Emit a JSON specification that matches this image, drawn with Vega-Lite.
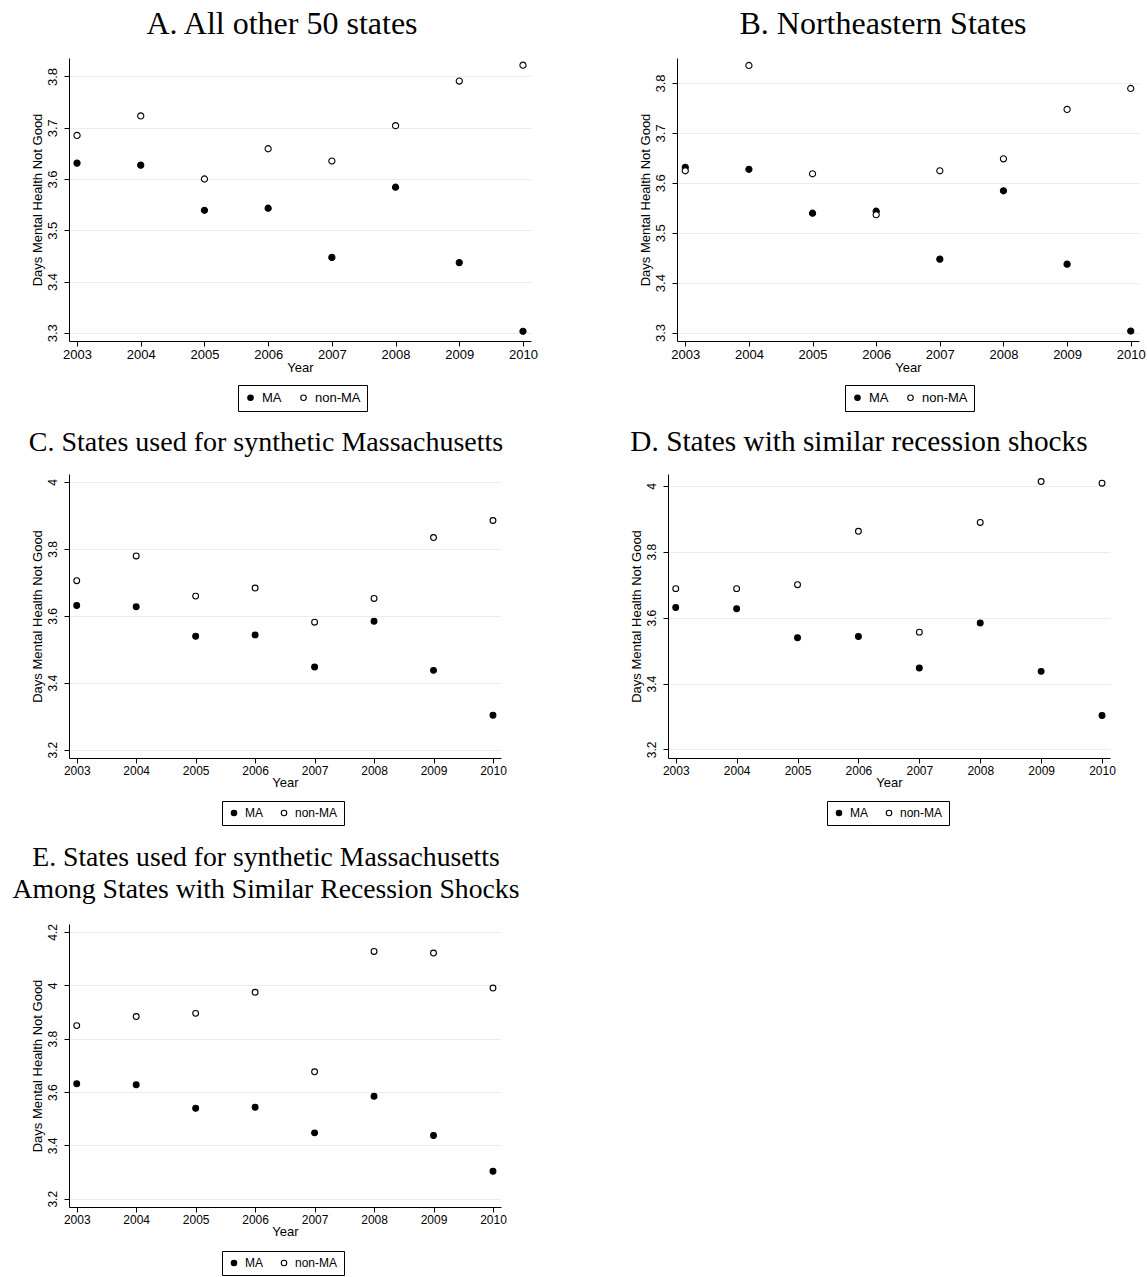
{
  "$schema": "https://vega.github.io/schema/vega-lite/v6.json",
  "padding": {"left": 12, "top": 8, "right": 5, "bottom": 0},
  "background": "white",
  "data": {"values": [
    {"panel":"A","year":2003,"group":"MA","value":3.631},{"panel":"A","year":2004,"group":"MA","value":3.627},{"panel":"A","year":2005,"group":"MA","value":3.539},{"panel":"A","year":2006,"group":"MA","value":3.543},{"panel":"A","year":2007,"group":"MA","value":3.447},{"panel":"A","year":2008,"group":"MA","value":3.584},{"panel":"A","year":2009,"group":"MA","value":3.437},{"panel":"A","year":2010,"group":"MA","value":3.303},
    {"panel":"A","year":2003,"group":"non-MA","value":3.685},{"panel":"A","year":2004,"group":"non-MA","value":3.723},{"panel":"A","year":2005,"group":"non-MA","value":3.600},{"panel":"A","year":2006,"group":"non-MA","value":3.659},{"panel":"A","year":2007,"group":"non-MA","value":3.635},{"panel":"A","year":2008,"group":"non-MA","value":3.704},{"panel":"A","year":2009,"group":"non-MA","value":3.791},{"panel":"A","year":2010,"group":"non-MA","value":3.822},
    {"panel":"B","year":2003,"group":"MA","value":3.631},{"panel":"B","year":2004,"group":"MA","value":3.627},{"panel":"B","year":2005,"group":"MA","value":3.539},{"panel":"B","year":2006,"group":"MA","value":3.543},{"panel":"B","year":2007,"group":"MA","value":3.447},{"panel":"B","year":2008,"group":"MA","value":3.584},{"panel":"B","year":2009,"group":"MA","value":3.437},{"panel":"B","year":2010,"group":"MA","value":3.303},
    {"panel":"B","year":2003,"group":"non-MA","value":3.624},{"panel":"B","year":2004,"group":"non-MA","value":3.835},{"panel":"B","year":2005,"group":"non-MA","value":3.618},{"panel":"B","year":2006,"group":"non-MA","value":3.536},{"panel":"B","year":2007,"group":"non-MA","value":3.624},{"panel":"B","year":2008,"group":"non-MA","value":3.648},{"panel":"B","year":2009,"group":"non-MA","value":3.747},{"panel":"B","year":2010,"group":"non-MA","value":3.789},
    {"panel":"C","year":2003,"group":"MA","value":3.631},{"panel":"C","year":2004,"group":"MA","value":3.627},{"panel":"C","year":2005,"group":"MA","value":3.539},{"panel":"C","year":2006,"group":"MA","value":3.543},{"panel":"C","year":2007,"group":"MA","value":3.447},{"panel":"C","year":2008,"group":"MA","value":3.584},{"panel":"C","year":2009,"group":"MA","value":3.437},{"panel":"C","year":2010,"group":"MA","value":3.303},
    {"panel":"C","year":2003,"group":"non-MA","value":3.705},{"panel":"C","year":2004,"group":"non-MA","value":3.779},{"panel":"C","year":2005,"group":"non-MA","value":3.659},{"panel":"C","year":2006,"group":"non-MA","value":3.683},{"panel":"C","year":2007,"group":"non-MA","value":3.581},{"panel":"C","year":2008,"group":"non-MA","value":3.652},{"panel":"C","year":2009,"group":"non-MA","value":3.834},{"panel":"C","year":2010,"group":"non-MA","value":3.885},
    {"panel":"D","year":2003,"group":"MA","value":3.631},{"panel":"D","year":2004,"group":"MA","value":3.627},{"panel":"D","year":2005,"group":"MA","value":3.539},{"panel":"D","year":2006,"group":"MA","value":3.543},{"panel":"D","year":2007,"group":"MA","value":3.447},{"panel":"D","year":2008,"group":"MA","value":3.584},{"panel":"D","year":2009,"group":"MA","value":3.437},{"panel":"D","year":2010,"group":"MA","value":3.303},
    {"panel":"D","year":2003,"group":"non-MA","value":3.688},{"panel":"D","year":2004,"group":"non-MA","value":3.688},{"panel":"D","year":2005,"group":"non-MA","value":3.700},{"panel":"D","year":2006,"group":"non-MA","value":3.862},{"panel":"D","year":2007,"group":"non-MA","value":3.556},{"panel":"D","year":2008,"group":"non-MA","value":3.889},{"panel":"D","year":2009,"group":"non-MA","value":4.013},{"panel":"D","year":2010,"group":"non-MA","value":4.008},
    {"panel":"E","year":2003,"group":"MA","value":3.631},{"panel":"E","year":2004,"group":"MA","value":3.627},{"panel":"E","year":2005,"group":"MA","value":3.539},{"panel":"E","year":2006,"group":"MA","value":3.543},{"panel":"E","year":2007,"group":"MA","value":3.447},{"panel":"E","year":2008,"group":"MA","value":3.584},{"panel":"E","year":2009,"group":"MA","value":3.437},{"panel":"E","year":2010,"group":"MA","value":3.303},
    {"panel":"E","year":2003,"group":"non-MA","value":3.849},{"panel":"E","year":2004,"group":"non-MA","value":3.883},{"panel":"E","year":2005,"group":"non-MA","value":3.895},{"panel":"E","year":2006,"group":"non-MA","value":3.974},{"panel":"E","year":2007,"group":"non-MA","value":3.676},{"panel":"E","year":2008,"group":"non-MA","value":4.127},{"panel":"E","year":2009,"group":"non-MA","value":4.121},{"panel":"E","year":2010,"group":"non-MA","value":3.990}
  ]},
  "spacing": 15,
  "resolve": {"scale": {"x": "independent", "y": "independent", "fill": "independent"}, "legend": {"fill": "independent"}},
  "vconcat": [
    {
      "spacing": 101,
      "resolve": {"scale": {"x": "independent", "y": "independent", "fill": "independent"}, "legend": {"fill": "independent"}},
      "hconcat": [
        {
          "title": {"text": "A. All other 50 states", "fontSize": 32, "dx": -18},
          "width": 462, "height": 283,
          "transform": [{"filter": "datum.panel === 'A'"}],
          "mark": {"type": "point", "shape": "circle", "filled": true, "stroke": "black", "strokeWidth": 1.1, "size": 38, "opacity": 1},
          "encoding": {
            "x": {"field": "year", "type": "quantitative", "scale": {"domain": [2002.874, 2010.126], "nice": false, "zero": false}, "axis": {"values": [2003, 2004, 2005, 2006, 2007, 2008, 2009, 2010], "format": "d", "title": "Year", "labelFontSize": 13}},
            "y": {"field": "value", "type": "quantitative", "scale": {"domain": [3.284, 3.836], "nice": false, "zero": false}, "axis": {"values": [3.3, 3.4, 3.5, 3.6, 3.7, 3.8], "format": "~g", "title": "Days Mental Health Not Good", "labelFontSize": 13}},
            "fill": {"field": "group", "type": "nominal", "scale": {"domain": ["MA", "non-MA"], "range": ["black", "white"]}, "legend": {"title": null, "orient": "none", "legendX": 169, "legendY": 327}}
          }
        },
        {
          "title": {"text": "B. Northeastern States", "fontSize": 32, "dx": -25},
          "width": 462, "height": 283,
          "transform": [{"filter": "datum.panel === 'B'"}],
          "mark": {"type": "point", "shape": "circle", "filled": true, "stroke": "black", "strokeWidth": 1.1, "size": 38, "opacity": 1},
          "encoding": {
            "x": {"field": "year", "type": "quantitative", "scale": {"domain": [2002.87, 2010.13], "nice": false, "zero": false}, "axis": {"values": [2003, 2004, 2005, 2006, 2007, 2008, 2009, 2010], "format": "d", "title": "Year", "labelFontSize": 13}},
            "y": {"field": "value", "type": "quantitative", "scale": {"domain": [3.283, 3.85], "nice": false, "zero": false}, "axis": {"values": [3.3, 3.4, 3.5, 3.6, 3.7, 3.8], "format": "~g", "title": "Days Mental Health Not Good", "labelFontSize": 13}},
            "fill": {"field": "group", "type": "nominal", "scale": {"domain": ["MA", "non-MA"], "range": ["black", "white"]}, "legend": {"title": null, "orient": "none", "legendX": 168, "legendY": 327}}
          }
        }
      ]
    },
    {
      "spacing": 18,
      "resolve": {"scale": {"x": "independent", "y": "independent", "fill": "independent"}, "legend": {"fill": "independent"}},
      "vconcat": [
        {
          "spacing": 123,
          "resolve": {"scale": {"x": "independent", "y": "independent", "fill": "independent"}, "legend": {"fill": "independent"}},
          "hconcat": [
            {
              "title": {"text": "C. States used for synthetic Massachusetts", "fontSize": 28, "dx": -19},
              "width": 432, "height": 284,
              "transform": [{"filter": "datum.panel === 'C'"}],
              "mark": {"type": "point", "shape": "circle", "filled": true, "stroke": "black", "strokeWidth": 1.1, "size": 34, "opacity": 1},
              "encoding": {
                "x": {"field": "year", "type": "quantitative", "scale": {"domain": [2002.87, 2010.135], "nice": false, "zero": false}, "axis": {"values": [2003, 2004, 2005, 2006, 2007, 2008, 2009, 2010], "format": "d", "title": "Year"}},
                "y": {"field": "value", "type": "quantitative", "scale": {"domain": [3.175, 4.024], "nice": false, "zero": false}, "axis": {"values": [3.2, 3.4, 3.6, 3.8, 4.0], "format": "~g", "title": "Days Mental Health Not Good"}},
                "fill": {"field": "group", "type": "nominal", "scale": {"domain": ["MA", "non-MA"], "range": ["black", "white"]}, "legend": {"title": null, "orient": "none", "legendX": 153, "legendY": 327, "labelFontSize": 12}}
              }
            },
            {
              "title": {"text": "D. States with similar recession shocks", "fontSize": 29.3, "dx": -30},
              "width": 442, "height": 284,
              "transform": [{"filter": "datum.panel === 'D'"}],
              "mark": {"type": "point", "shape": "circle", "filled": true, "stroke": "black", "strokeWidth": 1.1, "size": 34, "opacity": 1},
              "encoding": {
                "x": {"field": "year", "type": "quantitative", "scale": {"domain": [2002.873, 2010.131], "nice": false, "zero": false}, "axis": {"values": [2003, 2004, 2005, 2006, 2007, 2008, 2009, 2010], "format": "d", "title": "Year"}},
                "y": {"field": "value", "type": "quantitative", "scale": {"domain": [3.174, 4.036], "nice": false, "zero": false}, "axis": {"values": [3.2, 3.4, 3.6, 3.8, 4.0], "format": "~g", "title": "Days Mental Health Not Good"}},
                "fill": {"field": "group", "type": "nominal", "scale": {"domain": ["MA", "non-MA"], "range": ["black", "white"]}, "legend": {"title": null, "orient": "none", "legendX": 159, "legendY": 327, "labelFontSize": 12}}
              }
            }
          ]
        },
        {
          "resolve": {"scale": {"x": "independent", "y": "independent", "fill": "independent"}, "legend": {"fill": "independent"}},
          "hconcat": [
            {
              "title": {"text": ["E. States used for synthetic Massachusetts", "Among States with Similar Recession Shocks"], "fontSize": 27.7, "lineHeight": 31.6, "dx": -19, "offset": 20},
              "width": 432, "height": 283,
              "transform": [{"filter": "datum.panel === 'E'"}],
              "mark": {"type": "point", "shape": "circle", "filled": true, "stroke": "black", "strokeWidth": 1.1, "size": 34, "opacity": 1},
              "encoding": {
                "x": {"field": "year", "type": "quantitative", "scale": {"domain": [2002.87, 2010.135], "nice": false, "zero": false}, "axis": {"values": [2003, 2004, 2005, 2006, 2007, 2008, 2009, 2010], "format": "d", "title": "Year"}},
                "y": {"field": "value", "type": "quantitative", "scale": {"domain": [3.169, 4.23], "nice": false, "zero": false}, "axis": {"values": [3.2, 3.4, 3.6, 3.8, 4.0, 4.2], "format": "~g", "title": "Days Mental Health Not Good"}},
                "fill": {"field": "group", "type": "nominal", "scale": {"domain": ["MA", "non-MA"], "range": ["black", "white"]}, "legend": {"title": null, "orient": "none", "legendX": 153, "legendY": 327, "labelFontSize": 12}}
              }
            }
          ]
        }
      ]
    }
  ],
  "config": {
    "view": {"stroke": null},
    "font": "Liberation Sans",
    "title": {"font": "Liberation Serif", "fontSize": 30, "fontWeight": "normal", "color": "black", "anchor": "middle", "baseline": "bottom", "offset": 17},
    "axis": {"labelFont": "Liberation Sans", "labelFontSize": 12, "labelColor": "black", "titleFont": "Liberation Sans", "titleFontSize": 13, "titleFontWeight": "normal", "titleColor": "black", "domainColor": "black", "domainWidth": 1, "tickColor": "black", "tickWidth": 1, "tickSize": 5, "gridColor": "#e6eef0", "gridWidth": 1},
    "axisX": {"grid": false, "labelPadding": 2, "titlePadding": 0, "labelFlush": false},
    "axisY": {"grid": true, "labelAngle": -90, "labelAlign": "center", "labelBaseline": "bottom", "labelPadding": 5, "titlePadding": 2},
    "legend": {"orient": "none", "direction": "horizontal", "strokeColor": "black", "strokeWidth": 1, "padding": 6, "labelFont": "Liberation Sans", "labelFontSize": 13, "labelColor": "black", "symbolType": "circle", "symbolSize": 30, "symbolStrokeColor": "black", "symbolStrokeWidth": 1.1, "symbolOpacity": 1, "columnPadding": 15, "labelOffset": 5}
  }
}
